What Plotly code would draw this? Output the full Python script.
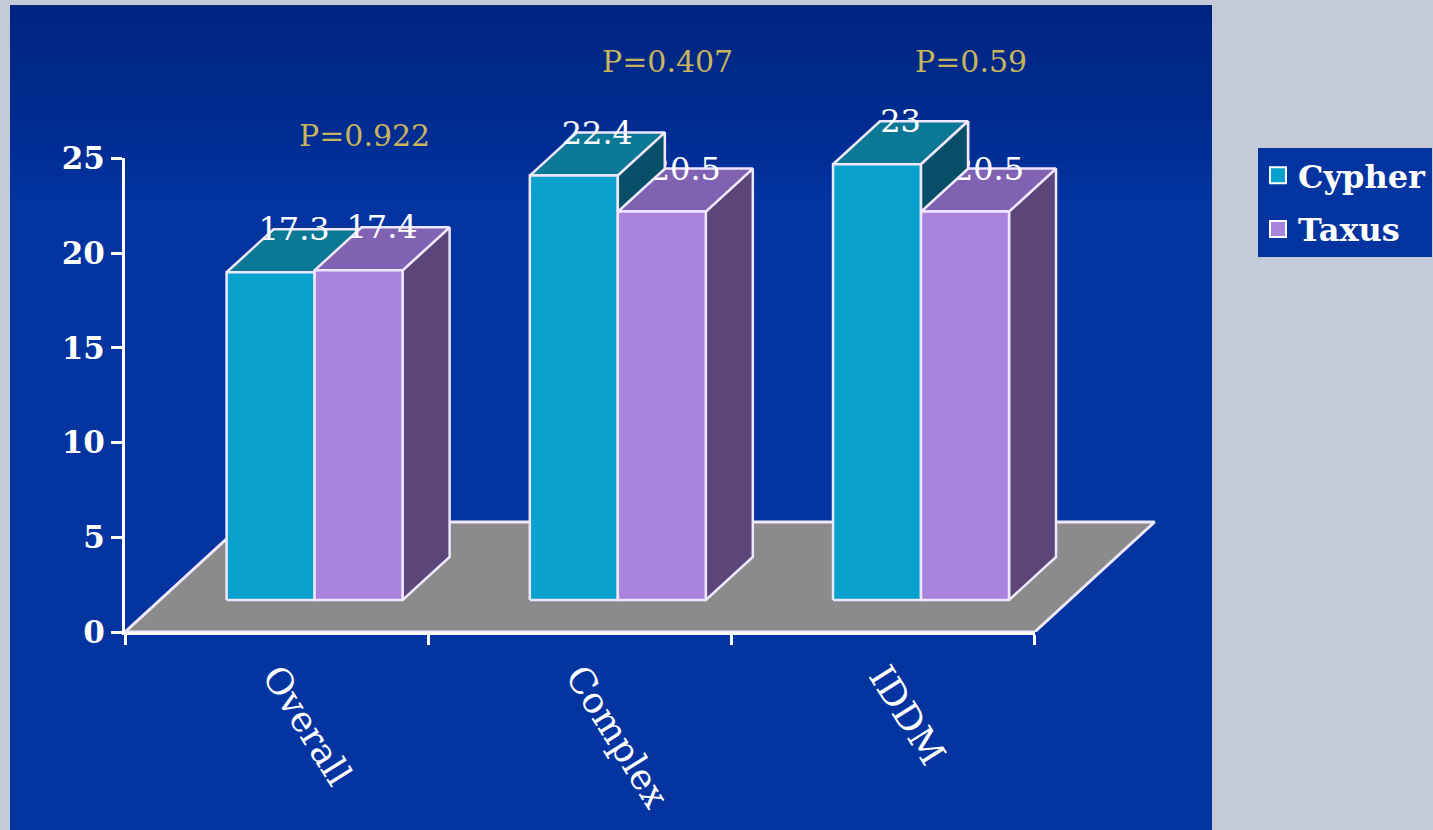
import plotly.graph_objects as go

# ---------------- data ----------------
categories = ["Overall", "Complex", "IDDM"]
series_names = ["Cypher", "Taxus"]
cypher = [17.3, 22.4, 23.0]
taxus = [17.4, 20.5, 20.5]
cypher_labels = ["17.3", "22.4", "23"]
taxus_labels = ["17.4", "20.5", "20.5"]
p_values = ["P=0.922", "P=0.407", "P=0.59"]
y_ticks = [0, 5, 10, 15, 20, 25]

# ---------------- layout constants ----------------
W, H = 1433, 830
ML, MR, MT, MB = 125, 221, 111, 198
PW, PH = W - ML - MR, H - MT - MB
N = len(categories)
X_RANGE = [-0.5, 3.085]
Y_RANGE = [0, 27.5]
Y_AXIS_MAX = 25
PPX = PW / (X_RANGE[1] - X_RANGE[0])
PPY = PH / (Y_RANGE[1] - Y_RANGE[0])


def ux(px):
    return px / PPX


def uy(px):
    return px / PPY


FLOOR_DX, FLOOR_DY = ux(120), uy(110)
FRONT_DX, FRONT_DY = ux(38), uy(32)
BAR_DX, BAR_DY = ux(47), uy(43)
BAR_W = ux(88)
LABEL_DY = uy(-3)
P_LABEL_DX = ux(88)
P_LABEL_Y = [26.2, 30.1, 30.1]

FONT = "DejaVu Serif"
EDGE = "#efe6ff"
PANEL = "#0334a0"
FLOOR = "#8b8b8b"
COLORS = {
    "Cypher": dict(front="#08a0cc", top="#0b7896", side="#074e68"),
    "Taxus": dict(front="#a984de", top="#8062b2", side="#5b4579"),
}

fig = go.Figure()


def poly(xs, ys, color, width=2.5):
    fig.add_trace(go.Scatter(
        x=list(xs) + [xs[0]], y=list(ys) + [ys[0]],
        mode="lines", fill="toself", fillcolor=color,
        line=dict(color=EDGE, width=width),
        hoverinfo="skip", showlegend=False))


def label(x, y, text):
    fig.add_trace(go.Scatter(
        x=[x], y=[y], mode="text", text=[text], textposition="middle center",
        textfont=dict(family=FONT, size=32, color="white"),
        cliponaxis=False, hoverinfo="skip", showlegend=False))


# floor
fx0, fx1 = -0.5, N - 0.5
poly([fx0, fx1, fx1 + FLOOR_DX, fx0 + FLOOR_DX],
     [0, 0, FLOOR_DY, FLOOR_DY], FLOOR, width=3)


def bar(x0, x1, v, cols):
    b = FRONT_DY
    poly([x1, x1 + BAR_DX, x1 + BAR_DX, x1], [b, b + BAR_DY, b + v + BAR_DY, b + v], cols["side"])
    poly([x0, x1, x1 + BAR_DX, x0 + BAR_DX], [b + v, b + v, b + v + BAR_DY, b + v + BAR_DY], cols["top"])
    poly([x0, x1, x1, x0], [b, b, b + v, b + v], cols["front"])


for i in range(N):
    c = i + FRONT_DX
    vc, vt = cypher[i], taxus[i]
    bar(c - BAR_W, c, vc, COLORS["Cypher"])
    bar(c, c + BAR_W, vt, COLORS["Taxus"])
    label(c - BAR_W / 2 + BAR_DX / 2, FRONT_DY + vc + BAR_DY + LABEL_DY, cypher_labels[i])
    label(c + BAR_W / 2 + BAR_DX / 2, FRONT_DY + vt + BAR_DY + LABEL_DY, taxus_labels[i])
    if vc > vt:
        b = FRONT_DY
        poly([c, c, c + BAR_DX, c + BAR_DX],
             [b + vt, b + vc, b + vc + BAR_DY, b + vt + BAR_DY], COLORS["Cypher"]["side"])

# legend entries (no marks drawn)
for name in series_names:
    fig.add_trace(go.Scatter(
        x=[None], y=[None], mode="markers", name=name, legendgroup=name,
        xaxis="x2", yaxis="y2",
        marker=dict(symbol="square", size=16, color=COLORS[name]["front"],
                    line=dict(color="white", width=2))))

# p-value annotations (paper y so they are not hidden above the axis range)
annotations = []
for i in range(N):
    annotations.append(dict(
        x=i + P_LABEL_DX, y=P_LABEL_Y[i] / Y_RANGE[1], xref="x", yref="paper",
        xanchor="center", yanchor="middle",
        text=p_values[i], showarrow=False,
        font=dict(family=FONT, size=30, color="#c9b55c")))

PX0, PX1 = (10 - ML) / PW, (1212 - ML) / PW
shapes = [
    dict(type="rect", xref="paper", yref="paper", layer="below",
         x0=PX0, x1=PX1, y0=(H - MB - H) / PH, y1=(H - MB - 5) / PH,
         fillcolor=PANEL, line=dict(width=0)),
]
for k in range(12):
    shapes.append(dict(type="rect", xref="paper", yref="paper", layer="below",
                       x0=PX0, x1=PX1,
                       y0=(H - MB - (20 + 16 * k)) / PH, y1=(H - MB - 5) / PH,
                       fillcolor="#001a60", opacity=0.045, line=dict(width=0)))

fig.update_layout(
    width=W, height=H, autosize=False,
    margin=dict(l=ML, r=MR, t=MT, b=MB, pad=0, autoexpand=False),
    paper_bgcolor="#c4cad7", plot_bgcolor="rgba(0,0,0,0)",
    showlegend=True,
    legend=dict(x=(1258 - ML) / PW, xanchor="left", y=(H - MB - 148) / PH, yanchor="top",
                bgcolor=PANEL, borderwidth=0, itemwidth=30, tracegroupgap=9,
                font=dict(family=FONT, size=32, color="white", weight="bold")),
    xaxis=dict(range=X_RANGE, visible=False, domain=[0, 1], fixedrange=True),
    yaxis=dict(range=Y_RANGE, visible=False, domain=[0, 1], fixedrange=True),
    xaxis2=dict(anchor="y2", domain=[0, N / (X_RANGE[1] - X_RANGE[0])],
                range=[-0.5, N - 0.5], tickmode="array", tickvals=list(range(N)),
                ticktext=categories, ticks="", tickangle=58, ticklabelstandoff=6,
                tickfont=dict(family=FONT, size=36, color="white"),
                showline=True, linecolor="white", linewidth=3, automargin=False,
                showgrid=False, zeroline=False, fixedrange=True,
                minor=dict(tickmode="array", tickvals=[i - 0.5 for i in range(N + 1)],
                           ticks="outside", ticklen=10, tickwidth=3, tickcolor="white",
                           showgrid=False)),
    yaxis2=dict(anchor="x2", domain=[0, Y_AXIS_MAX / Y_RANGE[1]], range=[0, Y_AXIS_MAX],
                tickmode="array", tickvals=y_ticks, ticks="outside", ticklen=11,
                tickwidth=3, tickcolor="white", automargin=False,
                tickfont=dict(family=FONT, size=31, color="white", weight="bold"),
                showline=True, linecolor="white", linewidth=3,
                showgrid=False, zeroline=False, fixedrange=True),
    annotations=annotations,
    shapes=shapes,
)

fig.write_html("out.html")
